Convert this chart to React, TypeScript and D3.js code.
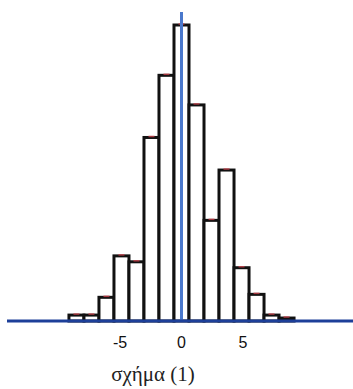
import React, { useRef, useEffect } from 'react';
import * as d3 from 'd3';

// bin index (relative to centre bin) and bar heights
const binIndex = [-7, -6, -5, -4, -3, -2, -1, 0, 1, 2, 3, 4, 5, 6, 7];
const counts = [2, 2, 8, 22, 20, 62, 83, 100, 73, 34, 51, 18, 9, 2, 1];
const tickValues = [-5, 0, 5];
const caption = 'σχήμα (1)';

const binWidth = 1.22;

const WIDTH = 353;
const HEIGHT = 389;

const App: React.FC = () => {
  const svgRef = useRef<SVGSVGElement>(null);

  useEffect(() => {
    if (!svgRef.current) return;
    const svg = d3.select(svgRef.current);
    svg.selectAll('*').remove();

    const axisY = 321;

    const x = d3.scaleLinear().domain([-5, 5]).range([120, 243]);
    const y = d3.scaleLinear().domain([0, 100]).range([axisY, 25]);

    const bars = binIndex.map((k, i) => ({
      x0: (k - 0.5) * binWidth,
      x1: (k + 0.5) * binWidth,
      value: counts[i]
    }));

    // Bars
    svg.append('g')
      .selectAll('rect')
      .data(bars)
      .enter()
      .append('rect')
      .attr('x', d => x(d.x0))
      .attr('y', d => y(d.value))
      .attr('width', d => x(d.x1) - x(d.x0))
      .attr('height', d => axisY - y(d.value))
      .attr('fill', '#fff')
      .attr('stroke', '#111')
      .attr('stroke-width', 3);

    // red marks on bar tops
    svg.append('g')
      .selectAll('line')
      .data(bars)
      .enter()
      .append('line')
      .attr('x1', d => x((d.x0 + d.x1) / 2) - 3)
      .attr('x2', d => x((d.x0 + d.x1) / 2) + 3)
      .attr('y1', d => y(d.value) - 1)
      .attr('y2', d => y(d.value) - 1)
      .attr('stroke', '#c8404a')
      .attr('stroke-width', 1.5)
      .attr('opacity', 0.8);

    // centre line
    svg.append('line')
      .attr('x1', x(0))
      .attr('x2', x(0))
      .attr('y1', 12)
      .attr('y2', axisY)
      .attr('stroke', '#4a78cc')
      .attr('stroke-width', 3);

    // x axis line
    svg.append('line')
      .attr('x1', 7)
      .attr('x2', WIDTH)
      .attr('y1', axisY)
      .attr('y2', axisY)
      .attr('stroke', '#1d3f99')
      .attr('stroke-width', 3);

    // tick labels
    svg.append('g')
      .selectAll('text')
      .data(tickValues)
      .enter()
      .append('text')
      .attr('x', d => x(d))
      .attr('y', 348)
      .attr('text-anchor', 'middle')
      .attr('font-family', '"Liberation Sans", Arial, sans-serif')
      .attr('font-size', '16px')
      .attr('fill', '#111')
      .text(d => String(d));

    svg.append('text')
      .attr('x', 153)
      .attr('y', 381)
      .attr('text-anchor', 'middle')
      .attr('font-family', '"Liberation Serif", "DejaVu Serif", serif')
      .attr('font-size', '21px')
      .attr('fill', '#222')
      .text(caption);
  }, []);

  return (
    <div style={{ position: 'absolute', left: 0, top: 0, width: WIDTH, height: HEIGHT }}>
      <svg ref={svgRef} width={WIDTH} height={HEIGHT} style={{ display: 'block', background: '#fff' }}></svg>
    </div>
  );
};

export default App;
